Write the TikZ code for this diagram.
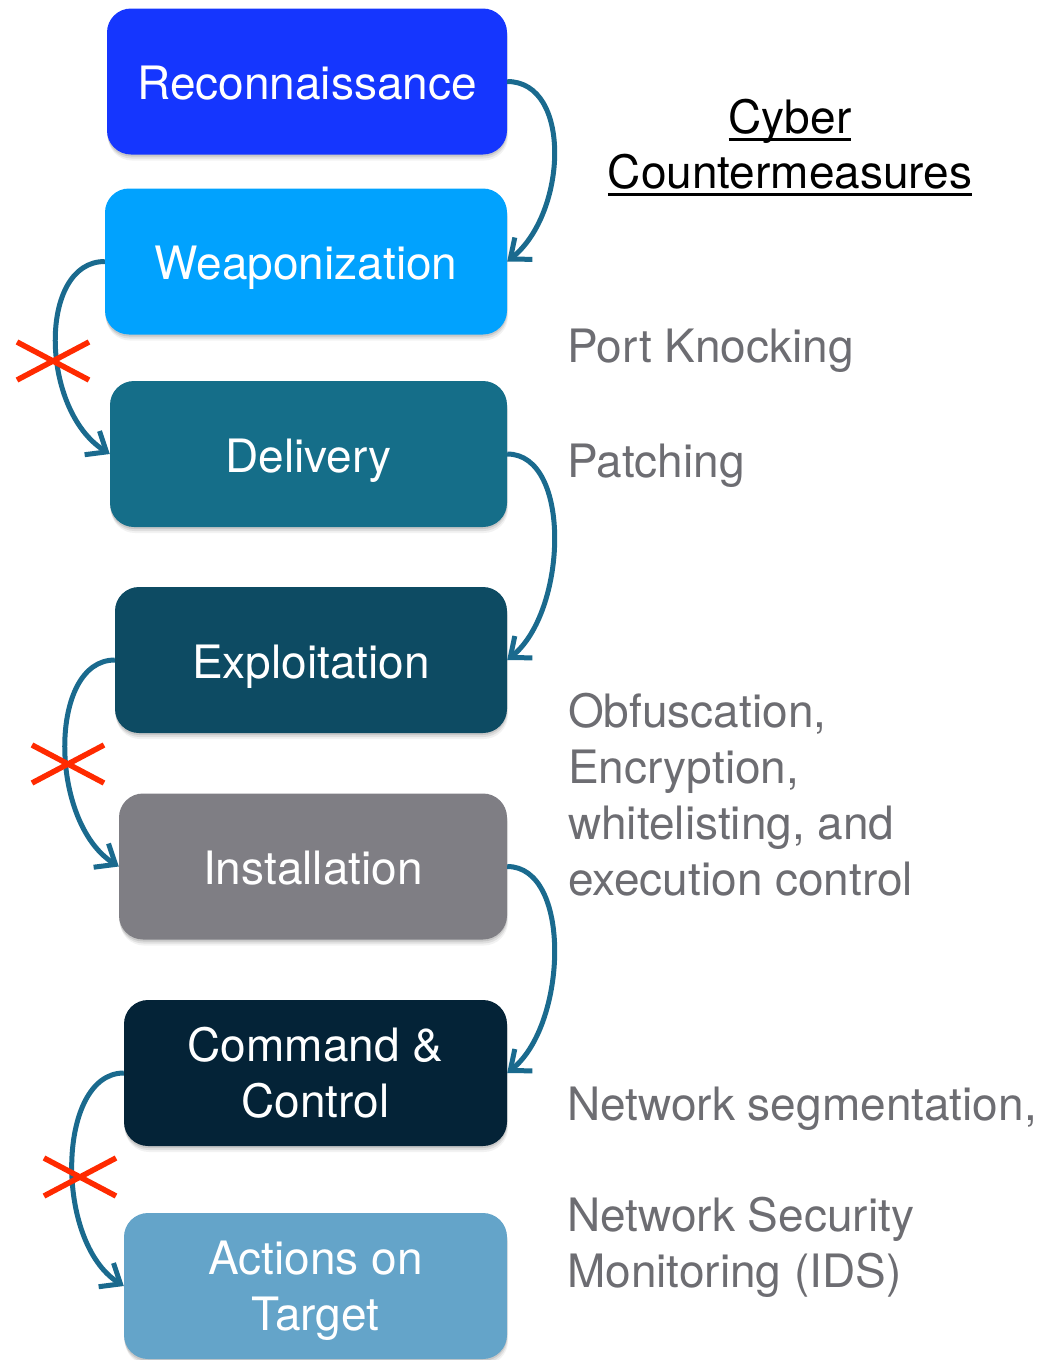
\documentclass[tikz,border=0pt]{standalone}
\usepackage{fontspec}
\setmainfont{TeX Gyre Heros}
\usetikzlibrary{arrows.meta,shadows}

\definecolor{cRecon}{HTML}{1536FE}
\definecolor{cWeap}{HTML}{01A2FE}
\definecolor{cDeliv}{HTML}{156E89}
\definecolor{cExpl}{HTML}{0D4B63}
\definecolor{cInst}{HTML}{7F7E84}
\definecolor{cCC}{HTML}{042337}
\definecolor{cAct}{HTML}{64A4C9}
\definecolor{cArrow}{HTML}{1A6A8E}
\definecolor{cCross}{HTML}{FF2A00}
\definecolor{cNote}{HTML}{6D6D72}

% underline drawn at a fixed distance below the baseline
\newcommand{\headul}[1]{\setbox0\hbox{#1}\rlap{\rule[-7.5pt]{\wd0}{2.8pt}}\box0}

\begin{document}
\begin{tikzpicture}[x=1pt,y=-1pt,
  soft shadow/.style={
    drop shadow={shadow xshift=0pt,shadow yshift=-2pt,opacity=.10,fill=black},
    drop shadow={shadow xshift=0.5pt,shadow yshift=-4pt,opacity=.08,fill=black},
    drop shadow={shadow xshift=1pt,shadow yshift=-6pt,opacity=.05,fill=black}},
  stage/.style={rounded corners=24pt, minimum height=146pt, inner sep=0pt,
    text=white, align=center, font=\fontsize{46}{56}\selectfont, soft shadow},
  oneline/.style={text height=36pt, text depth=0pt},
  note/.style={anchor=base west, inner sep=0pt, text=cNote, align=left,
    font=\fontsize{46}{56}\selectfont},
  flow/.style={draw=cArrow, line width=5pt,
    -{Straight Barb[length=17pt,width=28pt,line width=5pt]}},
  blocked/.style={draw=cCross, line width=5.5pt}]

\useasboundingbox (0,0) rectangle (1042,1360);

% kill chain stages
\node[stage, oneline, fill=cRecon, minimum width=400pt] (recon) at (307,81.5) {Reconnaissance};
\node[stage, oneline, fill=cWeap,  minimum width=402pt] (weap)  at (306,261.5) {Weaponization};
\node[stage, oneline, fill=cDeliv, minimum width=397pt] (deliv) at (308.5,454) {Delivery};
\node[stage, oneline, fill=cExpl,  minimum width=392pt] (expl)  at (311,660) {Exploitation};
\node[stage, oneline, fill=cInst,  minimum width=388pt] (inst)  at (313,866.5) {Installation};
\node[stage, fill=cCC,  minimum width=383pt] (cc)  at (315.5,1073) {Command \&\\Control};
\node[stage, fill=cAct, minimum width=383pt, text depth=0pt] (act) at (315.5,1286) {Actions on\\Target};

% transitions between stages
\draw[flow] (recon.east) .. controls +(65,0) and +(60,-48) .. (weap.east);
\draw[flow] (weap.west)  .. controls +(-67,0) and +(-70,-44) .. (deliv.west);
\draw[flow] (deliv.east) .. controls +(65,0) and +(60,-48) .. (expl.east);
\draw[flow] (expl.west)  .. controls +(-67,0) and +(-70,-44) .. (inst.west);
\draw[flow] (inst.east)  .. controls +(65,0) and +(60,-48) .. (cc.east);
\draw[flow] (cc.west)    .. controls +(-67,0) and +(-70,-44) .. (act.west);

% crosses on the interrupted transitions
\coordinate (x1) at (53,361);
\coordinate (x2) at (68,764);
\coordinate (x3) at (80,1177);
\foreach \c in {x1,x2,x3} {
  \draw[blocked] ([shift={(-36,-19)}]\c) -- ([shift={(36,19)}]\c);
  \draw[blocked] ([shift={(-36,19)}]\c) -- ([shift={(36,-19)}]\c);
}

% countermeasures column
\node[anchor=base, inner sep=0pt, align=center, font=\fontsize{46}{55}\selectfont]
  (head) at (790,188) {\headul{Cyber}\\\headul{Countermeasures}};
\node[note] (knock) at (567,362) {Port Knocking};
\node[note] (patch) at (567,477) {Patching};
\node[note] (obf)   at (568,895) {Obfuscation,\\Encryption,\\whitelisting, and\\execution control};
\node[note] (nseg)  at (567,1120) {Network segmentation,};
\node[note] (nsm)   at (567,1287) {Network Security\\Monitoring (IDS)};

\end{tikzpicture}
\end{document}
